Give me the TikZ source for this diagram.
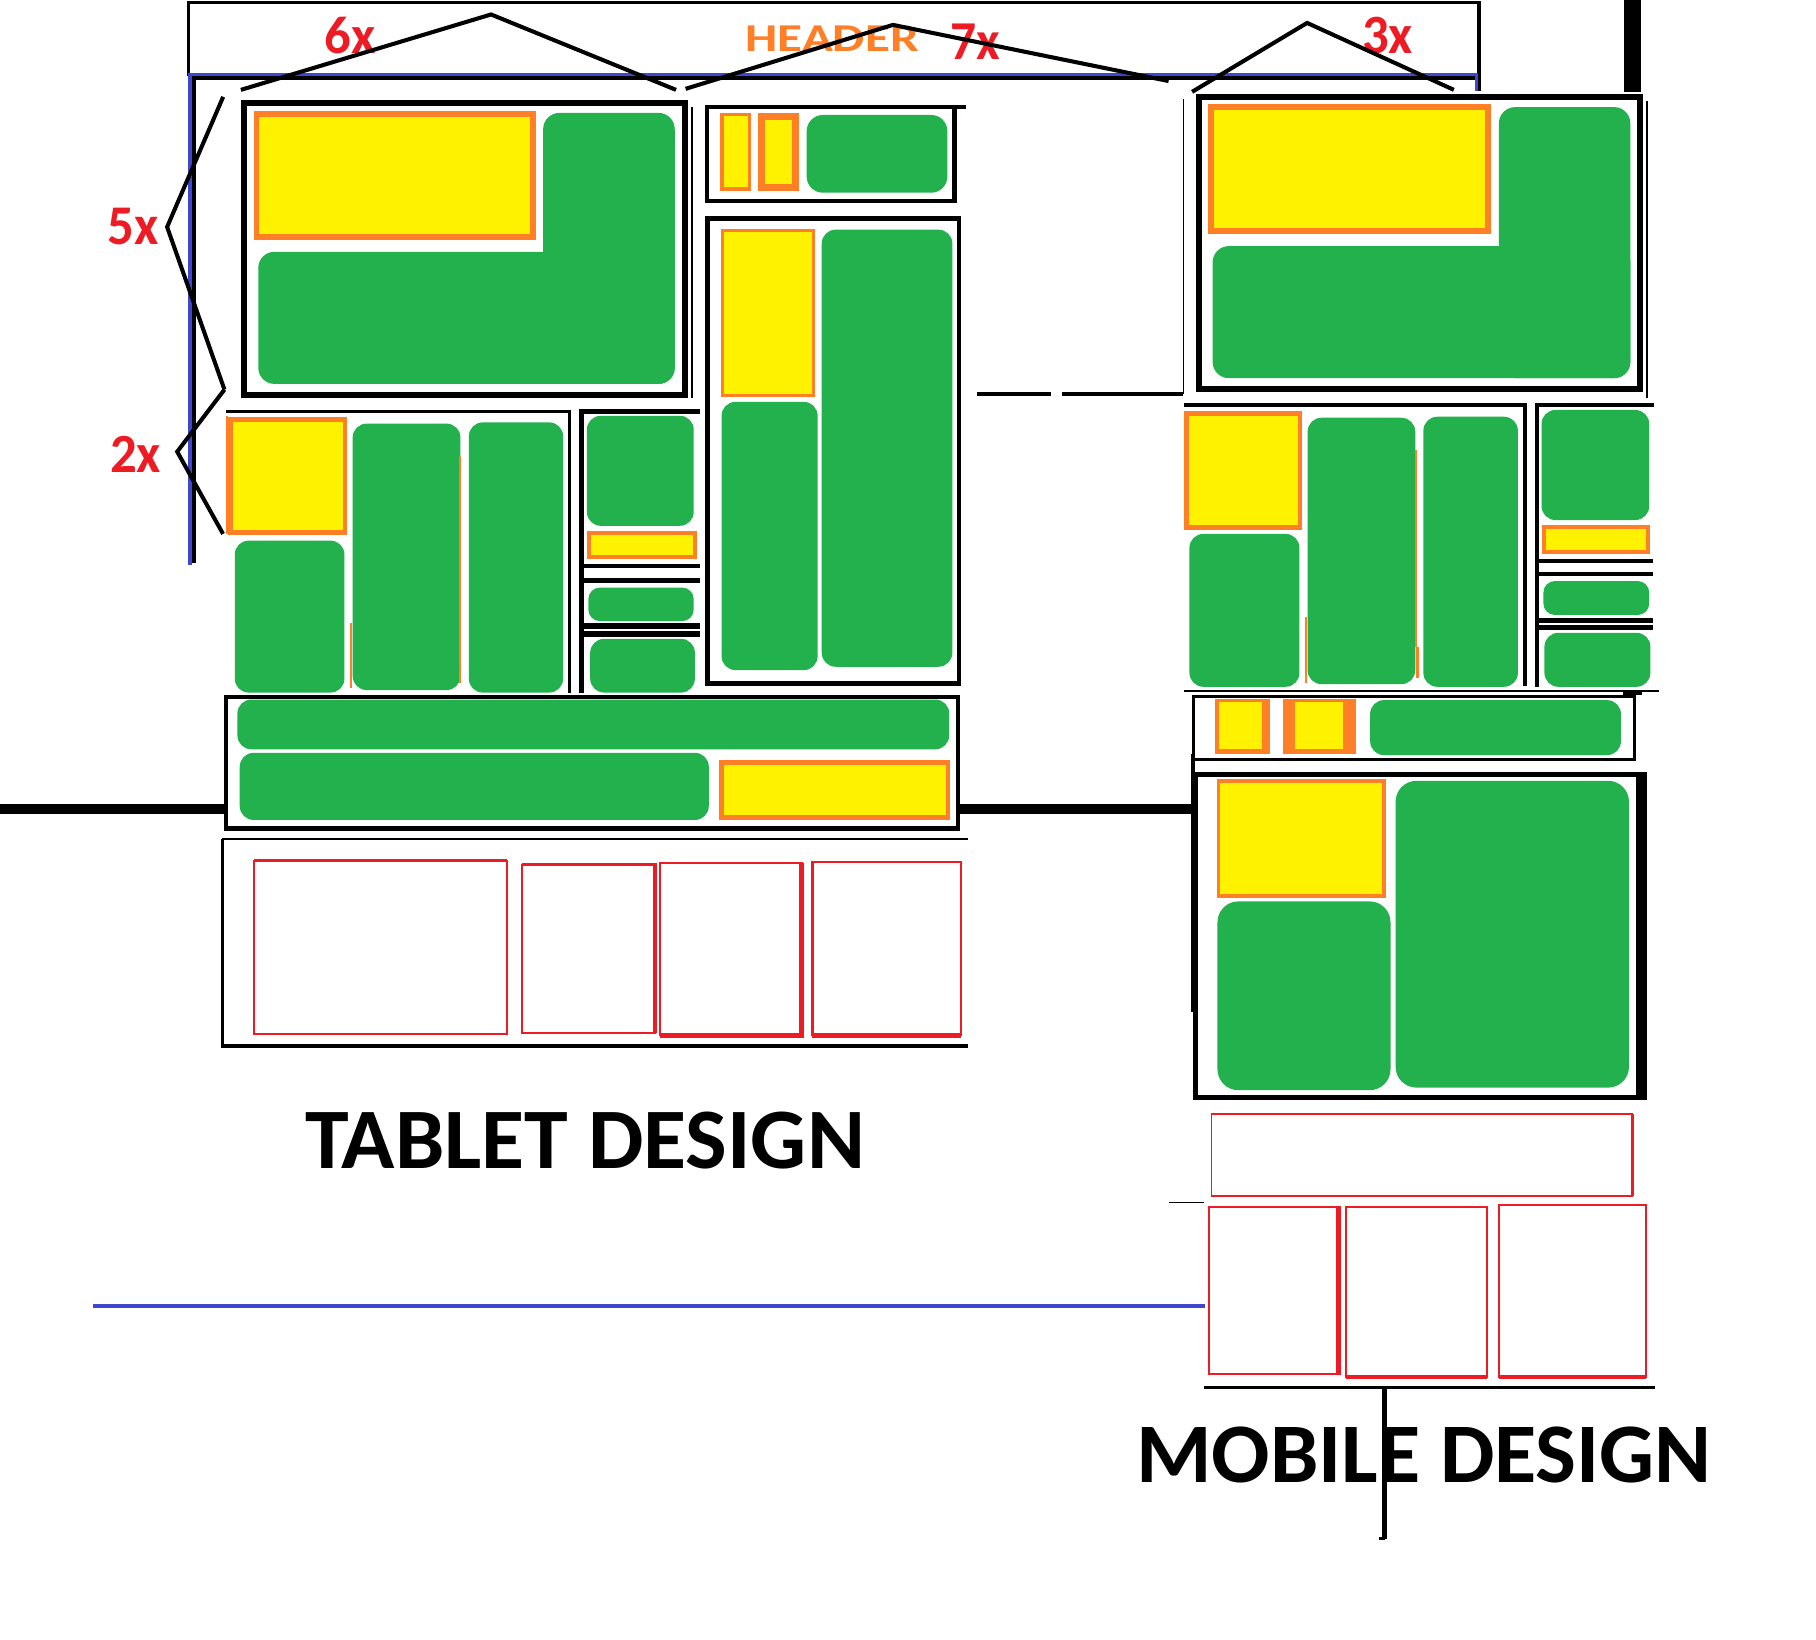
\documentclass[tikz,border=0pt]{standalone}
\usepackage{fontspec}
\setmainfont{Carlito}
\usepackage{graphicx}
\definecolor{pgreen}{RGB}{34,177,76}
\definecolor{pyellow}{RGB}{255,242,0}
\definecolor{porange}{RGB}{255,127,39}
\definecolor{pred}{RGB}{237,28,36}
\definecolor{pblue}{RGB}{63,72,204}
\newcommand\GBox[5][6pt]{\fill[pgreen, rounded corners=#1] (#2,#3) rectangle (#4,#5);}
\newcommand\YBox[5][4]{\fill[porange] (#2,#3) rectangle (#4,#5); \fill[pyellow] ({#2+#1},{#3+#1}) rectangle ({#4-#1},{#5-#1});}
\begin{document}
\begin{tikzpicture}[x=0.5pt,y=-0.5pt,
  lab/.style={anchor=base west, inner sep=0pt, text=pred, font=\bfseries},
  bigtitle/.style={anchor=base west, inner sep=0pt, text=black, font=\bfseries},
  brk/.style={line width=1.75pt, line join=miter},
  redbox/.style={draw=pred, line width=0.9pt}]
\useasboundingbox (0,0) rectangle (1568,1416);
\fill[white] (0,0) rectangle (1568,1416);

% ---------------- header ----------------
\draw[line width=1.3pt] (163,66) -- (163,2) -- (1277,2) -- (1277,79);
\draw[pblue, line width=1.4pt] (164,488) -- (164,64.2) -- (1275,64.2) -- (1275,79);
\draw[line width=1.6pt] (167.5,486) -- (167.5,67.6) -- (1273.5,67.6);
\fill (1402.6,0) rectangle (1416.6,79.3);
\node[anchor=base west, inner sep=0pt, text=porange, font=\bfseries] (hdr) at (643.2,44.6) {\resizebox{74.9pt}{11.05pt}{HEADER}};

% ---------------- tablet: box A ----------------
\YBox[5]{219}{95.8}{462.6}{207.2}
\GBox[7pt]{469}{97.5}{582.6}{331.5}
\GBox[7pt]{223}{217.4}{582.6}{331.5}
\draw[line width=2.6pt] (211,89.3) rectangle (591.3,340.7);
\draw[line width=0.7pt] (597.7,92.5) -- (597.7,343.7);

% box B
\YBox[3]{621.7}{97.3}{648.5}{164.7}
\YBox[6]{654.2}{97.3}{690}{164.7}
\GBox[7pt]{696.5}{99.3}{818}{166.4}
\draw[line width=1.9pt] (610.2,92.3) rectangle (824.3,173.4);
\draw[line width=1.9pt] (824,92.3) -- (834,92.3);

% box C
\YBox[2.5]{622.3}{197.6}{704}{342.5}
\GBox{623}{347}{706}{578.6}
\GBox{709.5}{198.3}{822.3}{575.7}
\draw[line width=2.1pt] (611,188.6) rectangle (828,590);

% box D
\YBox[4]{197}{360}{300}{462}
\GBox{202.7}{466.8}{297.4}{598}
\GBox{304.5}{365.8}{397.6}{595.8}
\GBox{404.8}{364.7}{486.2}{598}
\draw[porange, line width=0.8pt] (196,359) -- (196,461);
\draw[porange, line width=0.8pt] (302.7,538) -- (302.7,594);
\draw[porange, line width=0.8pt] (397.3,393.6) -- (397.3,590);
\draw[line width=1.5pt] (195,355.5) -- (491.5,355.5) -- (491.5,598);

% box E
\GBox{506.7}{359}{599}{454}
\YBox[3.5]{506.7}{458.4}{602}{483}
\GBox[5pt]{508}{507.3}{599}{536.3}
\GBox{509.6}{551.6}{600}{598}
\draw[line width=2pt] (502,598) -- (502,355.5) -- (604,355.5);
\draw[line width=1.8pt] (502,488.8) -- (604,488.8);
\draw[line width=2pt] (502,501) -- (604,501);
\draw[line width=2.4pt] (502,540.3) -- (604,540.3);
\draw[line width=2.4pt] (502,547.3) -- (604,547.3);

% box F
\GBox[6pt]{205}{604}{819.6}{647}
\GBox[6pt]{207}{650}{612}{708}
\YBox[4]{621}{656.3}{820.6}{708}
\draw[line width=1.9pt] (195,601.6) rectangle (827,715.3);

% thick horizontal line
\draw[line width=4.7pt] (0,698.5) -- (195,698.5);
\draw[line width=4.7pt] (827,698.5) -- (1030,698.5);

% box G
\draw[line width=0.9pt] (192,724.5) -- (836,724.5);
\draw[line width=1.5pt] (192,724) -- (192,903) -- (836,903);
\draw[redbox] (219.5,743.5) rectangle (437.5,893);
\draw[pred, line width=1.6pt] (219.5,743) -- (437.5,743);
\draw[redbox] (451,746.5) rectangle (565.5,892);
\draw[pred, line width=1.5pt] (451,746.3) -- (565.5,746.3) -- (565.5,892);
\draw[redbox] (569.5,745.5) rectangle (692,894);
\draw[pred, line width=1.9pt] (569.5,894) -- (692,894) -- (692,745.5);
\draw[redbox] (701.5,744.5) rectangle (830,894);
\draw[pred, line width=2pt] (701.5,894) -- (830,894);

\node[bigtitle] (tablet) at (263,1009) {\resizebox{241.7pt}{24.4pt}{TABLET DESIGN}};

% blue line
\draw[pblue, line width=1.5pt] (80,1127.5) -- (1040,1127.5);

% L connector line
\draw[line width=1.8pt] (843.7,340.4) -- (907.3,340.4);
\draw[line width=1.6pt] (917,340.4) -- (1021.8,340.4);
\draw[line width=0.8pt] (1021.8,340.4) -- (1021.8,85.3);

% ---------------- mobile: M1 ----------------
\YBox[5]{1043}{90.2}{1287.6}{202.3}
\GBox[7pt]{1294.2}{92.5}{1407.7}{326.5}
\GBox[7pt]{1047}{212.5}{1407.7}{326.5}
\draw[line width=2.6pt] (1035.3,83.7) rectangle (1416,335.8);
\draw[line width=0.7pt] (1422.2,87.6) -- (1422.2,343.7);

% M2
\YBox[4]{1022.5}{355}{1124.5}{457.7}
\GBox{1027}{461}{1122}{593}
\GBox{1129}{360.7}{1222}{590.7}
\GBox{1229}{359.8}{1310.6}{593}
\draw[porange, line width=0.8pt] (1127.7,532.5) -- (1127.7,589.5);
\draw[porange, line width=0.8pt] (1222.7,388.6) -- (1222.7,558.5);
\draw[porange, line width=1.2pt] (1224,558.5) -- (1224,585.5);
\draw[line width=1.6pt] (1022.5,350) -- (1317,350) -- (1317,592);
\draw[line width=0.6pt] (1022.5,596.5) -- (1432,596.5);

% M3
\GBox{1331}{354}{1424}{449}
\YBox[3.5]{1331.5}{453.4}{1425}{478.4}
\GBox[5pt]{1332.6}{501.7}{1424}{531}
\GBox{1333.5}{546.4}{1425}{593}
\draw[line width=1.7pt] (1326.7,593) -- (1326.7,349.8) -- (1428,349.8);
\draw[line width=1.5pt] (1326.7,484.3) -- (1427,484.3);
\draw[line width=2pt] (1326.7,495.7) -- (1427,495.7);
\draw[line width=2.2pt] (1326.7,535.4) -- (1427,535.4);
\draw[line width=2.2pt] (1326.7,541.9) -- (1427,541.9);

% M4
\fill[porange] (1049,603.6) rectangle (1096.7,651);
\fill[pyellow] (1052.6,606.5) rectangle (1090,646.8);
\fill[porange] (1107.7,603.6) rectangle (1171,651);
\fill[pyellow] (1118.3,606.5) rectangle (1160,646.8);
\GBox[6pt]{1183}{604.5}{1399.6}{652}
\draw[line width=1.4pt] (1030.5,601.5) rectangle (1411.3,656);
\fill (1401.7,597) rectangle (1417.6,600.5);

% M5
\YBox[3.3]{1050.4}{673}{1196.4}{775.5}
\GBox[9pt]{1051.2}{778.3}{1200.6}{941.3}
\GBox[9pt]{1205}{674.2}{1406.5}{939.1}
\draw[line width=2.1pt] (1032.5,668.5) rectangle (1415,947.8);
\fill (1413,667) rectangle (1422.3,950);
\fill (1028,651) rectangle (1031.5,874);

% mobile red boxes
\draw[redbox, line width=0.8pt] (1046,961.7) rectangle (1409.5,1032.7);
\draw[pred, line width=1.3pt] (1409.5,961.7) -- (1409.5,1032.7);
\draw[line width=0.8pt] (1009,1038.3) -- (1039.7,1038.3);
\draw[redbox] (1043.5,1042) rectangle (1157,1186.2);
\draw[pred, line width=1.6pt] (1155.5,1042) -- (1155.5,1186.2);
\draw[redbox] (1161.8,1042) rectangle (1283.6,1189);
\draw[pred, line width=1.8pt] (1161.8,1189) -- (1283.6,1189);
\draw[redbox] (1294,1040.4) rectangle (1421.3,1188.9);
\draw[pred, line width=1.8pt] (1294,1188.9) -- (1421.3,1188.9);
\draw[line width=1.4pt] (1039.7,1197.7) -- (1429,1197.7);

\node[bigtitle] (mobile) at (980.6,1280) {\resizebox{248.4pt}{24pt}{MOBILE DESIGN}};
\draw[line width=2.2pt] (1195.2,1198) -- (1195.2,1329);
\draw[line width=1.3pt] (1190.4,1328.5) -- (1196,1328.5);

% ---------------- labels and brackets ----------------
\node[lab] (l6) at (279.8,46.3) {\resizebox{22pt}{15.7pt}{6x}};
\node[lab] (l7) at (820,51.2) {\resizebox{21.45pt}{15.35pt}{7x}};
\node[lab] (l3) at (1175.6,46.3) {\resizebox{21.95pt}{15.7pt}{3x}};
\node[lab] (l5) at (92.5,211.5) {\resizebox{22.05pt}{15.7pt}{5x}};
\node[lab] (l2) at (94.7,408) {\resizebox{22.05pt}{15.65pt}{2x}};

\coordinate (b6a) at (208,77.6); \coordinate (b6p) at (424,12.5); \coordinate (b6b) at (583.7,77.6);
\coordinate (b7a) at (592,76.7); \coordinate (b7p) at (771,21.5); \coordinate (b7b) at (1009,70);
\coordinate (b3a) at (1029.3,79.3); \coordinate (b3p) at (1128.6,19.8); \coordinate (b3b) at (1255.3,77.6);
\coordinate (b5a) at (192.7,83.6); \coordinate (b5p) at (144.3,196); \coordinate (b5b) at (193.8,336.4);
\coordinate (b2p) at (153,390); \coordinate (b2b) at (192.6,461);
\draw[brk] (b6a) -- (b6p) -- (b6b);
\draw[brk] (b7a) -- (b7p) -- (b7b);
\draw[brk] (b3a) -- (b3p) -- (b3b);
\draw[brk] (b5a) -- (b5p) -- (b5b);
\draw[brk] (b5b) -- (b2p) -- (b2b);
\end{tikzpicture}
\end{document}
